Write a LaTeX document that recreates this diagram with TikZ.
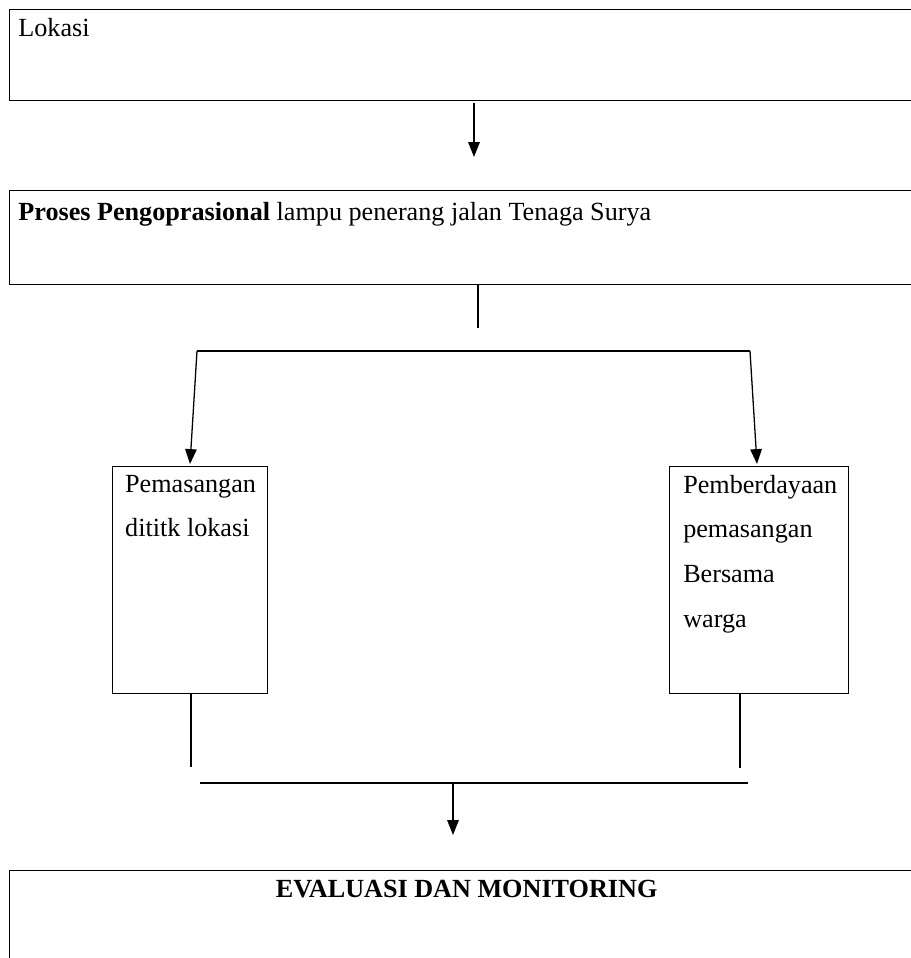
\documentclass[tikz,border=0pt]{standalone}
\usepackage{fontspec}
\setmainfont{Liberation Serif}
\usetikzlibrary{arrows.meta,positioning}
\begin{document}
\begin{tikzpicture}[x=0.47pt,y=-0.47pt,
    box/.style={draw, line width=0.6pt, anchor=north west, inner sep=0pt},
    lbl/.style={anchor=north west, inner sep=0pt, align=left,
        font=\fontsize{12.3}{21}\selectfont},
    conn/.style={line width=0.6pt},
    arr/.style={conn, -{Triangle[width=5.4pt,length=7pt]}}]
    \useasboundingbox (0,0) rectangle (911,958);
    \clip (0,0) rectangle (911,958);
    % boxes
    \node[box, minimum width=429.6pt, minimum height=42.8pt,
        label={[lbl, xshift=4.2pt, yshift=-4.3pt]north west:Lokasi}] (lokasi) at (9,9) {};
    \node[box, minimum width=429.6pt, minimum height=44.2pt,
        label={[lbl, xshift=4.2pt, yshift=-5.8pt]north west:\textbf{Proses Pengoprasional} lampu penerang jalan Tenaga Surya}] (proses) at (9,190) {};
    \node[box, minimum width=72.9pt, minimum height=106.7pt,
        label={[lbl, xshift=6pt, yshift=-4pt]north west:Pemasangan\\dititk lokasi}] (pasang) at (112,466) {};
    \node[box, minimum width=84.1pt, minimum height=106.7pt,
        label={[lbl, xshift=6.5pt, yshift=-4pt]north west:Pemberdayaan\\pemasangan\\Bersama\\warga}] (warga) at (669,466) {};
    \node[box, minimum width=429.6pt, minimum height=94pt,
        label={[lbl, anchor=north, yshift=-4.5pt]north:\textbf{EVALUASI DAN MONITORING}}] (evaluasi) at (9,870) {};
    % connectors
    \coordinate (a1) at (474,103);
    \coordinate (a2) at (474,157);
    \coordinate (s1) at (478,284);
    \coordinate (s2) at (478,328);
    \coordinate (fl) at (197,351);
    \coordinate (fr) at (750,351);
    \coordinate (tl) at (190,464);
    \coordinate (tr) at (757,464);
    \coordinate (bl1) at (191,693);
    \coordinate (bl2) at (191,767);
    \coordinate (br1) at (740,693);
    \coordinate (br2) at (740,768);
    \coordinate (ml) at (200,783);
    \coordinate (mr) at (748,783);
    \coordinate (m1) at (453,783);
    \coordinate (m2) at (453,835);
    \draw[arr] (a1) -- (a2);
    \draw[conn] (s1) -- (s2);
    \draw[conn] (fl) -- (fr);
    \draw[arr] (fl) -- (tl);
    \draw[arr] (fr) -- (tr);
    \draw[conn] (bl1) -- (bl2);
    \draw[conn] (br1) -- (br2);
    \draw[conn] (ml) -- (mr);
    \draw[arr] (m1) -- (m2);
\end{tikzpicture}
\end{document}
